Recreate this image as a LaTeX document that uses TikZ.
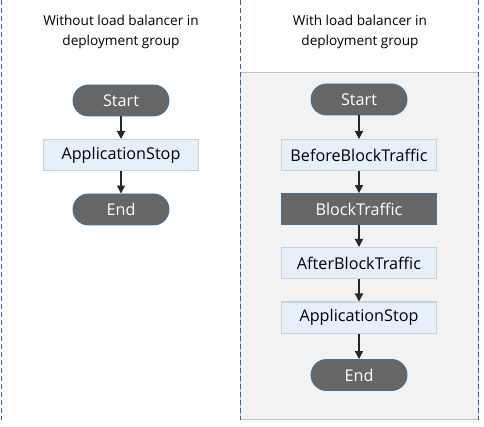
\documentclass[tikz,border=0pt]{standalone}
\usepackage{fontspec}
\setmainfont{Open Sans}
\usetikzlibrary{arrows.meta}
\definecolor{termfill}{HTML}{666666}
\definecolor{termborder}{HTML}{41719C}
\definecolor{boxfill}{HTML}{E5F0FB}
\definecolor{boxborder}{HTML}{C9D1D9}
\definecolor{panelfill}{HTML}{F2F2F2}
\definecolor{panelborder}{HTML}{BFBFBF}
\definecolor{dashblue}{HTML}{2F5F94}
\begin{document}
\begin{tikzpicture}[x=1pt,y=-1pt,
  term/.style={draw=termborder,line width=0.9pt,fill=termfill,text=white,
    rounded corners=15.5pt,minimum width=96pt,minimum height=31pt,inner sep=0pt,
    font=\fontsize{16.2}{18}\selectfont},
  stepbox/.style={draw=boxborder,line width=1pt,fill=boxfill,text=black,
    minimum width=155pt,minimum height=31pt,inner sep=0pt,
    font=\fontsize{16.2}{18}\selectfont},
  darkbox/.style={draw=termborder,line width=0.9pt,fill=termfill,text=white,
    minimum width=155pt,minimum height=31pt,inner sep=0pt,
    font=\fontsize{16.2}{18}\selectfont},
  title/.style={align=center,font=\fontsize{13.6}{20}\selectfont,text=black},
  flow/.style={line width=1.2pt,draw=black!85,-{Triangle[width=8pt,length=8pt]}},
  divider/.style={draw=dashblue,line width=1.6pt,dash pattern=on 5pt off 3pt}
]
\useasboundingbox (0,0) rectangle (484,427);
% grey panel
\fill[draw=panelborder,fill=panelfill,line width=0.8pt] (240.5,72) rectangle (478.5,419.5);
\draw[draw=boxfill!80!blue!30,line width=1pt] (241,421) -- (478,421);
% dividers
\draw[divider] (1.5,0) -- (1.5,420);
\draw[divider] (240.5,0) -- (240.5,420);
\draw[divider] (478.5,0) -- (478.5,420);
% titles
\node[title] (lt) at (121,32) {Without load balancer in\\deployment group};
\node[title] (rt) at (360,32) {With load balancer in\\deployment group};
% left flow
\node[term] (ls) at (121,100.5) {Start};
\node[stepbox] (lapp) at (121,155) {ApplicationStop};
\node[term] (le) at (121,209.5) {End};
\draw[flow] (ls) -- (lapp);
\draw[flow] (lapp) -- (le);
% right flow
\node[term] (rs) at (359,99.5) {Start};
\node[stepbox] (rb) at (359,155) {BeforeBlockTraffic};
\node[darkbox] (rbt) at (359,209) {BlockTraffic};
\node[stepbox] (ra) at (359,263) {AfterBlockTraffic};
\node[stepbox] (rapp) at (359,317.5) {ApplicationStop};
\node[term] (re) at (359,375) {End};
\draw[flow] (rs) -- (rb);
\draw[flow] (rb) -- (rbt);
\draw[flow] (rbt) -- (ra);
\draw[flow] (ra) -- (rapp);
\draw[flow] (rapp) -- (re);
\end{tikzpicture}
\end{document}
